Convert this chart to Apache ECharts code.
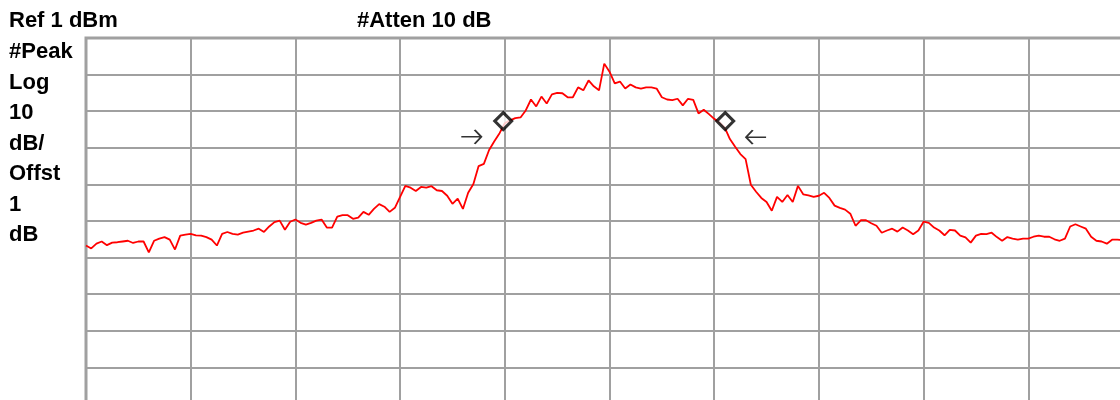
<!DOCTYPE html>
<html>
<head>
<meta charset="utf-8">
<script src="https://cdn.jsdelivr.net/npm/echarts@6/dist/echarts.min.js"></script>
<style>
html,body{margin:0;padding:0;background:#fff;overflow:hidden;width:1120px;height:400px;}
#chart{width:1140px;height:410px;}
</style>
</head>
<body>
<div id="chart"></div>
<script>
// ---- header / annotation texts ----
const HEADER_LEFT = 'Ref 1 dBm';
const HEADER_MID = '#Atten 10 dB';
const SIDE_LABELS = ['#Peak', 'Log', '10', 'dB/', 'Offst', '1', 'dB'];

// ---- scale settings ----
const REF_DBM = 1;          // reference level (top graticule line)
const DB_PER_DIV = 10;
const DIVS = 10;
const TRACE_POINTS = 200;   // trace point index span across 10 divisions

// ---- trace amplitude (dBm), one value per trace point from index 0 ----
const TRACE_DBM = [
-55.7,-56.5,-55.2,-54.6,-55.6,-54.9,-54.8,-54.6,-54.4,-55.0,
-54.6,-54.6,-57.6,-54.4,-53.8,-53.4,-54.1,-56.8,-53.0,-52.7,
-52.5,-52.9,-53.0,-53.4,-54.1,-55.7,-52.5,-52.0,-52.5,-52.7,
-52.2,-51.9,-51.6,-51.1,-52.0,-50.5,-49.3,-48.9,-51.4,-49.2,
-48.6,-49.5,-50.0,-49.5,-48.9,-48.6,-50.8,-50.8,-47.8,-47.4,
-47.4,-48.4,-48.1,-46.5,-47.3,-45.7,-44.4,-45.1,-46.5,-45.4,
-42.4,-39.4,-39.9,-40.8,-39.7,-39.9,-39.5,-40.6,-40.8,-42.1,
-44.3,-42.9,-45.7,-41.3,-38.9,-34.0,-33.4,-29.6,-27.2,-25.0,
-22.3,-21.5,-20.9,-20.7,-18.8,-15.8,-17.7,-15.0,-16.9,-14.4,
-14.0,-14.1,-15.2,-15.2,-12.5,-13.3,-10.6,-12.2,-13.3,-6.0,
-8.2,-11.4,-10.9,-12.8,-11.7,-12.5,-12.8,-12.5,-12.5,-12.8,
-15.2,-15.8,-16.0,-15.6,-17.4,-15.6,-15.9,-19.6,-18.6,-19.8,
-21.1,-22.0,-23.4,-26.6,-28.7,-30.7,-32.1,-39.1,-41.0,-42.7,
-43.8,-46.2,-42.4,-43.8,-41.9,-43.8,-39.4,-41.7,-42.0,-42.4,
-42.1,-41.3,-42.7,-44.8,-45.4,-45.9,-47.0,-50.3,-48.8,-48.8,
-49.6,-50.3,-52.2,-51.6,-51.1,-51.9,-50.8,-51.6,-52.6,-51.6,
-49.2,-49.5,-50.8,-51.6,-52.9,-51.4,-51.6,-53.0,-53.5,-54.9,
-53.0,-52.5,-52.6,-52.2,-53.4,-54.4,-53.4,-53.8,-54.1,-53.8,
-53.8,-53.3,-53.0,-53.3,-53.3,-54.0,-54.4,-53.8,-50.5,-49.9,
-50.5,-51.1,-53.3,-54.4,-54.6,-55.2,-54.1,-54.1,-54.2
];

// ---- band-edge markers (diamonds) ----
const MARKER_X = [79.7, 122.1];
const MARKER_DBM = [-21.7, -21.7];

// ---- arrow annotations ----
const ARROW_RIGHT = [73.6, -26.0];   // "→"
const ARROW_LEFT = [128.0, -26.1];   // "←"

const rel = v => v - REF_DBM;

const chart = echarts.init(document.getElementById('chart'), null, {renderer: 'canvas'});

const textStyleBase = {fill: '#000', font: 'bold 22px "Liberation Sans", Arial, sans-serif'};
const graphics = [
  {type: 'text', left: 9, top: 10, style: Object.assign({text: HEADER_LEFT}, textStyleBase)},
  {type: 'text', left: 357, top: 10, style: Object.assign({text: HEADER_MID}, textStyleBase)}
];
SIDE_LABELS.forEach((t, k) => {
  graphics.push({type: 'text', left: 9, top: 41 + k * 30.5, style: Object.assign({text: t}, textStyleBase)});
});

const gridColor = '#a0a0a0';

chart.setOption({
  animation: false,
  backgroundColor: '#fff',
  grid: {
    left: 86, top: 38, width: 1047, height: 366,
    outerBoundsMode: 'none', containLabel: false,
    show: true, borderColor: gridColor, borderWidth: 3, backgroundColor: '#fff'
  },
  xAxis: {
    type: 'value', min: 0, max: TRACE_POINTS, interval: TRACE_POINTS / DIVS,
    axisLine: {show: false}, axisTick: {show: false}, axisLabel: {show: false},
    splitLine: {show: true, lineStyle: {color: gridColor, width: 2}}
  },
  yAxis: {
    type: 'value', min: -DB_PER_DIV * DIVS, max: 0, interval: DB_PER_DIV,
    axisLine: {show: false}, axisTick: {show: false}, axisLabel: {show: false},
    splitLine: {show: true, lineStyle: {color: gridColor, width: 2}}
  },
  graphic: graphics,
  series: [
    {
      type: 'line', name: 'Trace', showSymbol: false, symbol: 'none',
      data: TRACE_DBM.map((v, i) => [i, rel(v)]),
      lineStyle: {color: '#ff0000', width: 1.8},
      z: 3
    },
    {
      type: 'scatter', name: 'Markers',
      data: MARKER_X.map((x, k) => [x, rel(MARKER_DBM[k])]),
      symbol: 'diamond', symbolSize: 17,
      itemStyle: {color: '#fff', borderColor: '#000', borderWidth: 3},
      z: 5
    },
    {
      type: 'scatter', name: 'ArrowR',
      data: [[ARROW_RIGHT[0], rel(ARROW_RIGHT[1])]],
      symbol: 'path://M0,7 L21,7 M14,0 L21,7 L14,14',
      symbolSize: [20, 14],
      itemStyle: {color: 'rgba(0,0,0,0)', borderColor: '#000', borderWidth: 1.8},
      z: 5
    },
    {
      type: 'scatter', name: 'ArrowL',
      data: [[ARROW_LEFT[0], rel(ARROW_LEFT[1])]],
      symbol: 'path://M21,7 L0,7 M7,0 L0,7 L7,14',
      symbolSize: [20, 14],
      itemStyle: {color: 'rgba(0,0,0,0)', borderColor: '#000', borderWidth: 1.8},
      z: 5
    }
  ]
});
</script>
</body>
</html>
